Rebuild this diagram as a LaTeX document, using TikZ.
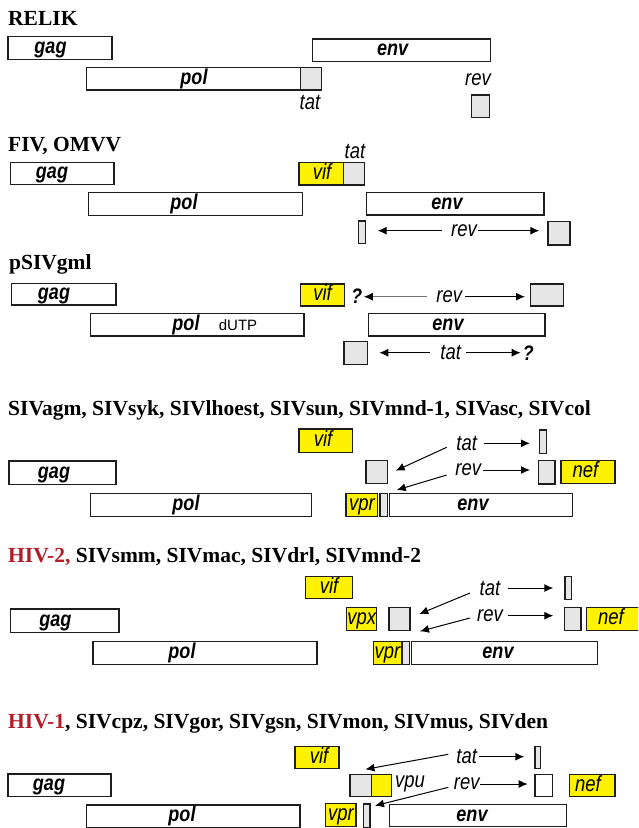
\documentclass[tikz,border=0pt]{standalone}
\usepackage{fontspec}
\setmainfont{Liberation Serif}
\newfontfamily\gf[FakeStretch=0.84]{Liberation Sans}
\newfontfamily\gs{Liberation Sans}
\usetikzlibrary{arrows.meta,fit,calc}
\definecolor{gy}{RGB}{255,242,0}
\definecolor{gg}{RGB}{230,230,230}
\definecolor{hivred}{RGB}{178,30,40}
\definecolor{bx}{RGB}{30,30,30}
\tikzset{
 gb/.style={draw=bx,line width=1.4pt,inner sep=0pt,outer sep=0pt,rectangle},
 wbox/.style={gb,fill=white},
 ybox/.style={gb,fill=gy},
 gbox/.style={gb,fill=gg},
 glabel/.style={anchor=base,inner sep=0pt,font={\fontsize{21.5}{21.5}\gf\bfseries\itshape}},
 alabel/.style={anchor=base,inner sep=0pt,font={\fontsize{22}{22}\gf\itshape}},
 tlabel/.style={anchor=center,inner sep=0pt,font={\fontsize{22}{22}\gf\itshape}},
 qmark/.style={anchor=center,inner sep=0pt,font={\fontsize{21}{21}\gf\bfseries\itshape}},
 dutp/.style={anchor=base,inner sep=0pt,font={\fontsize{15}{15}\gs}},
 title/.style={anchor=base west,inner sep=0pt,font={\fontsize{21.5}{21.5}\selectfont\bfseries}},
 arr/.style={-{Latex[length=9pt,width=8pt]},line width=1pt,draw=black},
}
\newcommand\gene[9]{\node[#1,fit={(#3,#4) (#5,#6)}] (#2) {};
 \node[#8] (#2t) at (#7,{(#4+#6)/2+5.5}) {#9};}
\newcommand\plainbox[6]{\node[#1,fit={(#3,#4) (#5,#6)}] (#2) {};}
\begin{document}
\begin{tikzpicture}[x=1pt,y=-1pt]
\fill[white] (0,0) rectangle (638,828);
\clip (0,0) rectangle (638,828);
% ---------- RELIK
\node[title] (t1) at (8,25) {RELIK};
\gene{wbox}{s1gag}{8}{36.7}{112}{59.3}{50.5}{glabel}{gag}
\gene{wbox}{s1env}{312.7}{39}{490.7}{61.7}{392.7}{glabel}{env}
\gene{wbox}{s1pol}{86.7}{67.3}{300.7}{90}{194}{glabel}{pol}
\plainbox{gbox}{s1tat}{300.7}{67.3}{321.3}{90}
\node[alabel] (s1tatl) at (310,109) {tat};
\node[alabel] (s1revl) at (478,85) {rev};
\plainbox{gbox}{s1rev}{471.7}{95}{489.3}{117.3}
% ---------- FIV
\node[title] (t2) at (8,151.5) {FIV, OMVV};
\gene{wbox}{s2gag}{10.2}{162.3}{113.9}{184.3}{52}{glabel}{gag}
\gene{ybox}{s2vif}{299}{162.7}{343.3}{185}{322}{alabel}{vif}
\plainbox{gbox}{s2tat}{343.3}{162.7}{364.7}{185}
\node[alabel] (s2tatl) at (355,158) {tat};
\gene{wbox}{s2pol}{88.7}{192.5}{302.7}{215.5}{184}{glabel}{pol}
\gene{wbox}{s2env}{366.7}{192.3}{544}{215}{447}{glabel}{env}
\plainbox{gbox}{s2rev1}{358.7}{221}{365.3}{243.3}
\plainbox{gbox}{s2rev2}{548}{221.7}{570}{245}
\node[tlabel] (s2revl) at (464,230.7) {rev};
\draw[arr] ($(s2revl.center)+(-22.3,0)$) -- ($(s2rev1.east |- s2revl.center)+(12.4,0)$);
\draw[arr] ($(s2revl.center)+(14,0)$) -- ($(s2rev2.west |- s2revl.center)+(-8.7,0)$);
% ---------- pSIVgml
\node[title] (t3) at (9,269) {pSIVgml};
\gene{wbox}{s3gag}{11.4}{283.3}{116}{305}{54}{glabel}{gag}
\gene{ybox}{s3vif}{300.7}{284}{344.3}{306}{322.5}{alabel}{vif}
\node[qmark] (s3q1) at (356.7,296) {?};
\node[tlabel] (s3revl) at (449.3,296.7) {rev};
\plainbox{gbox}{s3rev}{530.7}{284}{563.3}{306}
\draw[line width=1pt,draw=black!55,-{Latex[length=9pt,width=8pt,color=black]}] ($(s3revl.center)+(-22.6,0)$) -- ($(s3q1.east |- s3revl.center)+(1.5,0)$);
\draw[arr] ($(s3revl.center)+(15.7,0)$) -- ($(s3rev.west |- s3revl.center)+(-5.7,0)$);
\gene{wbox}{s3pol}{90.3}{313.3}{304}{336}{186}{glabel}{pol}
\node[dutp] (s3dutp) at (238,{(313.3+336)/2+5.5}) {dUTP};
\gene{wbox}{s3env}{368.3}{313.3}{545}{336}{448}{glabel}{env}
\plainbox{gbox}{s3tat}{344}{341.7}{367.3}{364.3}
\node[tlabel] (s3tatl) at (450.7,352.7) {tat};
\node[qmark] (s3q2) at (528.3,352.7) {?};
\draw[arr] ($(s3tatl.center)+(-20.7,0)$) -- ($(s3tat.east |- s3tatl.center)+(12,0)$);
\draw[arr] ($(s3tatl.center)+(15.3,0)$) -- ($(s3q2.west |- s3tatl.center)+(-2,0)$);
% ---------- SIVagm
\node[title] (t4) at (8,415) {SIVagm, SIVsyk, SIVlhoest, SIVsun, SIVmnd-1, SIVasc, SIVcol};
\gene{ybox}{s4vif}{299}{429}{352.3}{452.3}{323}{alabel}{vif}
\node[tlabel] (s4tatl) at (466.7,443.3) {tat};
\plainbox{gbox}{s4tat}{539.7}{430}{546.7}{453.3}
\draw[arr] ($(s4tatl.center)+(17.3,0)$) -- ($(s4tat.west |- s4tatl.center)+(-9.7,0)$);
\gene{wbox}{s4gag}{9}{461}{116}{484.3}{54}{glabel}{gag}
\plainbox{gbox}{s4g}{366}{460.7}{387.3}{483.3}
\draw[arr] ($(s4tatl.center)+(-20,4)$) -- ($(s4g.east)+(8.4,-1.3)$);
\node[tlabel] (s4revl) at (468.3,470) {rev};
\plainbox{gbox}{s4rev}{538.3}{460.7}{555}{484}
\gene{ybox}{s4nef}{561}{460.7}{615}{483.3}{585.5}{alabel}{nef}
\draw[arr] ($(s4revl.center)+(15,0)$) -- ($(s4rev.west |- s4revl.center)+(-8.3,0)$);
\gene{wbox}{s4pol}{90.3}{493.3}{311.5}{516.7}{186}{glabel}{pol}
\gene{ybox}{s4vpr}{346}{493.3}{377.7}{516.7}{362}{alabel}{vpr}
\plainbox{gbox}{s4thin}{380}{493.3}{387.3}{516.7}
\gene{wbox}{s4env}{389.3}{493.3}{572.7}{516.7}{473}{glabel}{env}
\draw[arr] ($(s4revl.center)+(-21.6,5)$) -- ($(s4thin.north east)+(9.4,-3.3)$);
% ---------- HIV-2
\node[title] (t5) at (8,562) {\textcolor{hivred}{HIV-2,} SIVsmm, SIVmac, SIVdrl, SIVmnd-2};
\gene{ybox}{s5vif}{305.7}{576.3}{352.3}{598.7}{329}{alabel}{vif}
\node[tlabel] (s5tatl) at (490,588) {tat};
\plainbox{gbox}{s5tat}{565}{576.3}{571.7}{599.7}
\draw[arr] ($(s5tatl.center)+(17.7,0)$) -- ($(s5tat.west |- s5tatl.center)+(-11.7,0)$);
\gene{wbox}{s5gag}{10.2}{609}{118.8}{632.3}{55.4}{glabel}{gag}
\gene{ybox}{s5vpx}{346.7}{607.3}{376.7}{630.7}{361.7}{alabel}{vpx}
\plainbox{gbox}{s5g}{389}{607.3}{410}{630.7}
\draw[arr] ($(s5tatl.center)+(-20,5)$) -- ($(s5g.east)+(9.3,-5)$);
\node[tlabel] (s5revl) at (490,615.7) {rev};
\plainbox{gbox}{s5rev}{564.3}{607.3}{581}{630.7}
\gene{ybox}{s5nef}{586.7}{607.3}{650}{630.7}{611}{alabel}{nef}
\draw[arr] ($(s5revl.center)+(17.7,0)$) -- ($(s5rev.west |- s5revl.center)+(-11,0)$);
\gene{wbox}{s5pol}{92.8}{641.3}{317}{664.7}{182}{glabel}{pol}
\gene{ybox}{s5vpr}{373.3}{641.3}{401.7}{664.7}{387.5}{alabel}{vpr}
\plainbox{gbox}{s5thin}{402.7}{641.3}{409.3}{664.7}
\gene{wbox}{s5env}{411.7}{641.3}{597.3}{664.7}{498}{glabel}{env}
\draw[arr] ($(s5revl.center)+(-20,2.3)$) -- ($(s5thin.north east)+(10.7,-10)$);
% ---------- HIV-1
\node[title] (t6) at (8,728) {\textcolor{hivred}{HIV-1}, SIVcpz, SIVgor, SIVgsn, SIVmon, SIVmus, SIVden};
\gene{ybox}{s6vif}{295}{746.7}{339}{768.3}{319}{alabel}{vif}
\node[tlabel] (s6tatl) at (466.7,756.7) {tat};
\plainbox{gbox}{s6tat}{535}{746.7}{540.7}{768.3}
\draw[arr] ($(s6tatl.center)+(12.6,0)$) -- ($(s6tat.west |- s6tatl.center)+(-10.7,0)$);
\gene{wbox}{s6gag}{8.1}{774}{111}{796.7}{49}{glabel}{gag}
\plainbox{gbox}{s6g}{350}{774.3}{371.5}{796.7}
\plainbox{ybox}{s6vpu}{371.5}{774.3}{391.7}{796.7}
\node[alabel] (s6vpul) at (410,787) {vpu};
\draw[arr] ($(s6tatl.center)+(-18.4,-2.4)$) -- ($(s6g.north)+(4.7,-5)$);
\node[tlabel] (s6revl) at (466.7,784) {rev};
\plainbox{wbox}{s6rev}{535}{774.3}{552.7}{796.7}
\gene{ybox}{s6nef}{569.3}{774.3}{615}{796.7}{588}{alabel}{nef}
\draw[arr] ($(s6revl.center)+(13.3,0)$) -- ($(s6rev.west |- s6revl.center)+(-7.3,0)$);
\gene{wbox}{s6pol}{86.7}{805}{300}{827.7}{182}{glabel}{pol}
\gene{ybox}{s6vpr}{325.7}{803.3}{356}{826.7}{341}{alabel}{vpr}
\plainbox{gbox}{s6thin}{363.3}{804}{370}{827.7}
\gene{wbox}{s6env}{389.3}{804.3}{566.7}{826.7}{472}{glabel}{env}
\draw[arr] ($(s6revl.center)+(-18.4,3.3)$) -- ($(s6thin.north east)+(5,1.7)$);
\end{tikzpicture}
\end{document}
